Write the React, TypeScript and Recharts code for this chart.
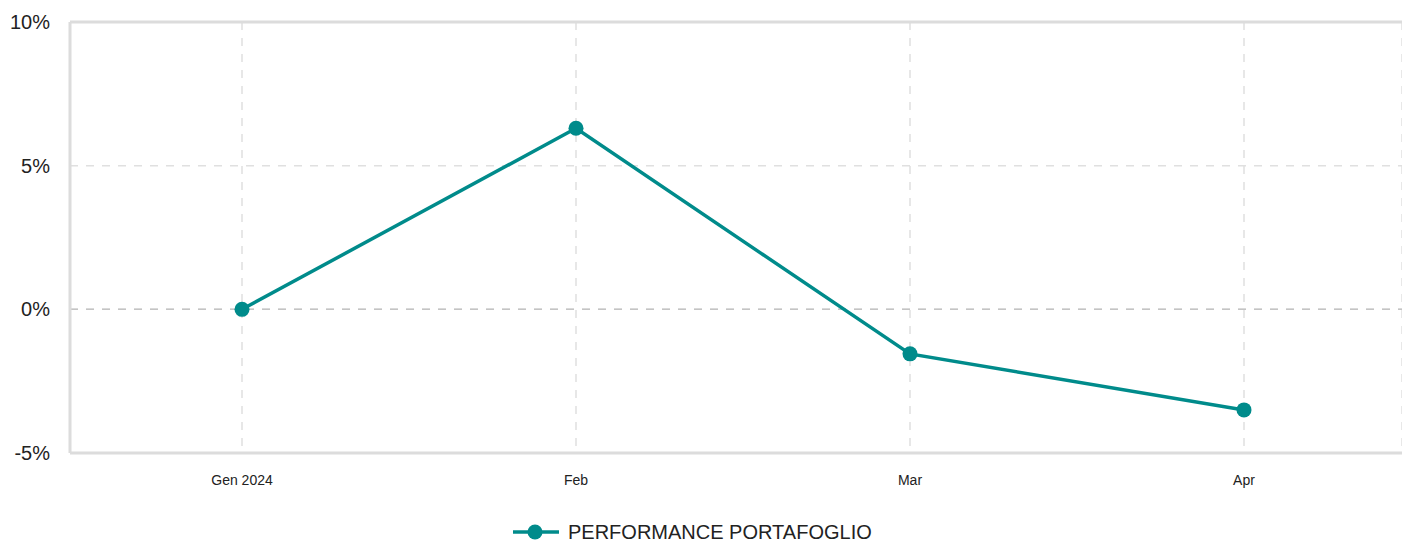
import {
  LineChart,
  Line,
  XAxis,
  YAxis,
  CartesianGrid,
  ReferenceLine,
  Legend,
} from "recharts";

const months = ["Gen 2024", "Feb", "Mar", "Apr"];
const performance = [0, 6.3, -1.55, -3.5];
const yTicks = [-5, 0, 5, 10];

const data = months.map((m, i) => ({ month: m, perf: performance[i] }));

const TEAL = "#008b8b";
const BORDER = "#dcdcdc";
const FONT = "'Liberation Sans', Arial, sans-serif";

function LegendContent() {
  return (
    <div
      style={{
        display: "flex",
        alignItems: "center",
        height: 16,
        paddingTop: 21,
        fontFamily: FONT,
        fontSize: 20,
        lineHeight: "16px",
        color: "#222",
      }}
    >
      <svg width={46} height={16} style={{ marginRight: 9 }}>
        <line x1={0} y1={8} x2={46} y2={8} stroke={TEAL} strokeWidth={3.5} />
        <circle cx={22} cy={8} r={7.5} fill={TEAL} />
      </svg>
      <span>PERFORMANCE PORTAFOGLIO</span>
    </div>
  );
}

export default function App() {
  return (
    <div
      style={{
        position: "absolute",
        left: 0,
        top: 0,
        width: 1402,
        height: 543,
        overflow: "hidden",
        background: "#fff",
      }}
    >
      <LineChart
        width={1402}
        height={543}
        data={data}
        margin={{ top: 22, right: 0, left: 0, bottom: 0 }}
      >
        <CartesianGrid stroke="#e0e0e0" strokeDasharray="8 8" strokeWidth={1.5} />
        <XAxis
          dataKey="month"
          padding={{ left: 172, right: 158 }}
          height={50}
          tickLine={false}
          tickMargin={16}
          axisLine={{ stroke: BORDER, strokeWidth: 3 }}
          tick={{ fill: "#222", fontSize: 14, fontFamily: FONT }}
        />
        <YAxis
          domain={[-5, 10]}
          ticks={yTicks}
          width={70}
          tickLine={false}
          tickMargin={14}
          tickFormatter={(v) => `${v}%`}
          axisLine={{ stroke: BORDER, strokeWidth: 3 }}
          tick={{ fill: "#222", fontSize: 20, fontFamily: FONT }}
        />
        <ReferenceLine y={10} stroke={BORDER} strokeWidth={3} />
        <ReferenceLine y={0} stroke="#c4c4c4" strokeDasharray="8 8" strokeWidth={1.5} />
        <Legend
          verticalAlign="bottom"
          height={40}
          content={<LegendContent />}
          wrapperStyle={{ left: 513, width: "auto" }}
        />
        <Line
          type="linear"
          dataKey="perf"
          name="PERFORMANCE PORTAFOGLIO"
          stroke={TEAL}
          strokeWidth={3.5}
          dot={{ r: 7.5, fill: TEAL, stroke: TEAL, strokeWidth: 0 }}
          activeDot={false}
          isAnimationActive={false}
        />
      </LineChart>
    </div>
  );
}
